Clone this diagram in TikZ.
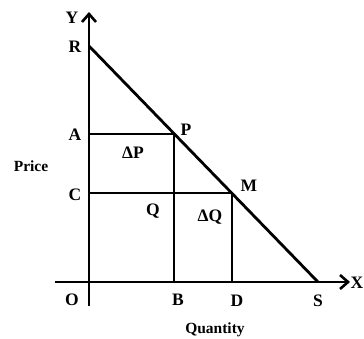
\documentclass[tikz,border=0pt]{standalone}
\usepackage{fontspec}
\setmainfont{Liberation Serif}
\usetikzlibrary{arrows.meta}
\begin{document}
\begin{tikzpicture}[x=1pt,y=-1pt,
  ln/.style={line width=2.8pt},
  axis/.style={line width=2.8pt,-{Straight Barb[length=8pt,width=14pt,line width=2.6pt]}},
  lbl/.style={font=\fontsize{17.5}{17.5}\selectfont\bfseries,inner sep=0pt},
  ttl/.style={font=\fontsize{15.5}{15.5}\selectfont\bfseries,inner sep=0pt}]
\useasboundingbox (0,0) rectangle (364,339);
\coordinate (O) at (89,282);
\coordinate (Ybot) at (89,306);
\coordinate (Ytop) at (89,12);
\coordinate (Xleft) at (55,282);
\coordinate (Xright) at (350,282);
\coordinate (R) at (89,46);
\coordinate (S) at (318,282);
\coordinate (A) at (89,134);
\coordinate (P) at (174,134);
\coordinate (C) at (89,193);
\coordinate (M) at (232,193);
\coordinate (B) at (174,282);
\coordinate (D) at (232,282);
\draw[axis] (Ybot) -- (Ytop);
\draw[axis] (Xleft) -- (Xright);
\draw[ln] (R) -- (S);
\draw[ln] (A) -- (P) -- (B);
\draw[ln] (C) -- (M) -- (D);
\node[lbl] (lY) at (72,18) {Y};
\node[lbl] (lR) at (75,47) {R};
\node[lbl] (lA) at (75,135) {A};
\node[lbl] (lP) at (186,130) {P};
\node[lbl] (ldP) at (133,153) {ΔP};
\node[ttl] (lPrice) at (31,166) {Price};
\node[lbl] (lC) at (75,195) {C};
\node[lbl] (lQ) at (153,211) {Q};
\node[lbl] (lM) at (249,186) {M};
\node[lbl] (ldQ) at (210,217) {ΔQ};
\node[lbl] (lO) at (72,300) {O};
\node[lbl] (lB) at (178,300) {B};
\node[lbl] (lD) at (237,301) {D};
\node[lbl] (lS) at (318,301) {S};
\node[lbl] (lX) at (357,283) {X};
\node[ttl] (lQty) at (215,330) {Quantity};
\end{tikzpicture}
\end{document}
